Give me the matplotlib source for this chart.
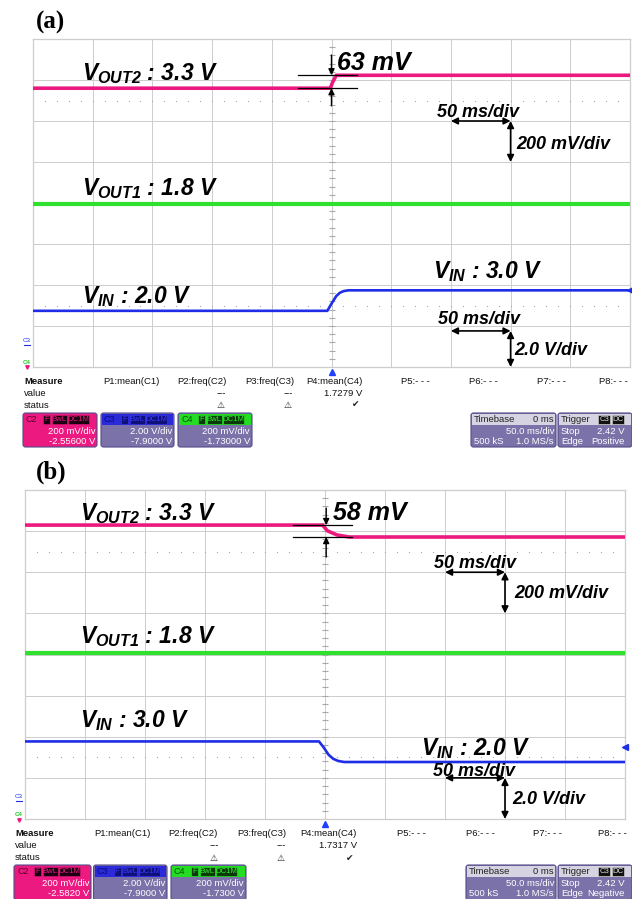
import numpy as np
import matplotlib
matplotlib.use("Agg")
import matplotlib.pyplot as plt
from matplotlib.patches import FancyBboxPatch, Rectangle

plt.rcParams["mathtext.fontset"] = "custom"
for key in ("mathtext.rm", "mathtext.it", "mathtext.bf", "mathtext.sf"):
    plt.rcParams[key] = "Liberation Sans:bold:italic"

W, H = 632, 899

PINK = "#ec1a80"
GREEN = "#2fe02f"
BLUE = "#1e2ee6"
GRID = "#cdcdcd"
TICK = "#a8a8a8"
PANEL = "#7a72a8"
PANEL_EDGE = "#544c8a"

# ---------------- data ----------------
time_per_div = 50.0            # ms/div
n_xdiv, n_ydiv = 10, 8
volts_per_div = {"vout2": 0.2, "vout1": 0.2, "vin": 2.0}

# (a) input steps up 2.0 V -> 3.0 V
a_vin_t = [-250, -3.5, 0, 4, 7, 10, 14, 250]
a_vin_v = [2.0, 2.0, 2.35, 2.72, 2.88, 2.96, 3.0, 3.0]
a_vout2_t = [-250, -1, 1, 4, 250]
a_vout2_v = [3.300, 3.300, 3.330, 3.363, 3.363]
a_vout1_t = [-250, 250]
a_vout1_v = [1.8, 1.8]
a_step_mv = 63

# (b) input steps down 3.0 V -> 2.0 V
b_vin_t = [-250, -5, -1, 3, 7, 11, 16, 250]
b_vin_v = [3.0, 3.0, 2.7, 2.35, 2.15, 2.05, 2.0, 2.0]
b_vout2_t = [-250, -2, 2, 10, 20, 250]
b_vout2_v = [3.358, 3.358, 3.330, 3.310, 3.300, 3.300]
b_vout1_t = [-250, 250]
b_vout1_v = [1.8, 1.8]
b_step_mv = 58

# screen position (divisions from bottom) of each channel's reference level
a_ref = {"vout2": (3.300, 6.80), "vout1": (1.8, 3.98), "vin": (2.0, 1.37)}
b_ref = {"vout2": (3.300, 6.857), "vout1": (1.8, 4.04), "vin": (2.0, 1.386)}

# measurement readouts
meas_names = ["Measure", "P1:mean(C1)", "P2:freq(C2)", "P3:freq(C3)", "P4:mean(C4)",
              "P5:- - -", "P6:- - -", "P7:- - -", "P8:- - -"]
a_p4_value = "1.7279 V"
b_p4_value = "1.7317 V"

a_ch_rows = [("C2", "200 mV/div", "-2.55600 V"),
             ("C3", "2.00 V/div", "-7.9000 V"),
             ("C4", "200 mV/div", "-1.73000 V")]
b_ch_rows = [("C2", "200 mV/div", "-2.5820 V"),
             ("C3", "2.00 V/div", "-7.9000 V"),
             ("C4", "200 mV/div", "-1.7300 V")]
timebase_rows = ("Timebase", "0 ms", "50.0 ms/div", "500 kS", "1.0 MS/s")
trigger_stop = ("Stop", "2.42 V")
a_trigger_edge = ("Edge", "Positive")
b_trigger_edge = ("Edge", "Negative")


def to_div(values, ch, ref):
    v0, pos = ref[ch]
    return [pos + (v - v0) / volts_per_div[ch] for v in values]


fig = plt.figure(figsize=(W / 100, H / 100), dpi=100)

# overlay axes in pixel units for the readout area
ov = fig.add_axes([0, 0, 1, 1], zorder=0)
ov.set_xlim(0, W)
ov.set_ylim(H, 0)
ov.axis("off")

BIG = dict(fontfamily="Liberation Sans", fontweight="bold", fontstyle="italic")


def make_scope_axes(box):
    x0, y0, x1, y1 = box
    ax = fig.add_axes([x0 / W, 1 - y1 / H, (x1 - x0) / W, (y1 - y0) / H], zorder=2)
    half = n_xdiv * time_per_div / 2
    ax.set_xlim(-half, half)
    ax.set_ylim(0, n_ydiv)
    ax.set_xticks([])
    ax.set_yticks([])
    for s in ax.spines.values():
        s.set_color(GRID)
        s.set_linewidth(0.9)
    for i in range(1, n_xdiv):
        ax.axvline(-half + i * time_per_div, color=GRID, lw=0.7, zorder=1)
    for j in range(1, n_ydiv):
        ax.axhline(j, color=GRID, lw=0.7, zorder=1)
    # centre axis minor ticks and dotted sub-division rows
    ys = np.arange(0, n_ydiv + 0.01, 0.2)
    ax.plot(np.zeros_like(ys), ys, ls="none", marker="_", ms=4, mew=0.8,
            color=TICK, zorder=1)
    xs = np.arange(-half + 10, half, 10)
    for row in (1.5, 6.5):
        ax.plot(xs, np.full_like(xs, row), ls="none", marker="s", ms=0.8,
                mew=0, color="#a8a8a8", zorder=1)
    return ax


def draw_panel(box, ref, traces, step_mv, step_lines, labels, arrows_top, arrows_bot,
               texts, right_marker):
    ax = make_scope_axes(box)
    (t2, v2), (t1, v1), (ti, vi) = traces
    ax.plot(t2, to_div(v2, "vout2", ref), color=PINK, lw=2.6, zorder=3,
            solid_capstyle="butt")
    ax.plot(t1, to_div(v1, "vout1", ref), color=GREEN, lw=3.0, zorder=3,
            solid_capstyle="butt")
    ax.plot(ti, to_div(vi, "vin", ref), color=BLUE, lw=1.9, zorder=3,
            solid_capstyle="butt")

    # step measurement cursors
    lo_v, hi_v, xl, xr, xa, top_y, bot_y = step_lines
    lo, hi = to_div([lo_v, hi_v], "vout2", ref)
    up, dn = max(lo, hi), min(lo, hi)
    ax.plot([xl, xr], [up, up], color="black", lw=0.9, zorder=4)
    ax.plot([xl, xr], [dn, dn], color="black", lw=0.9, zorder=4)
    ap = dict(arrowstyle="-|>", color="black", lw=1.0, mutation_scale=9,
              shrinkA=0, shrinkB=0)
    ax.annotate("", xy=(xa, up), xytext=(xa, top_y), arrowprops=ap, zorder=4)
    ax.annotate("", xy=(xa, dn), xytext=(xa, bot_y), arrowprops=ap, zorder=4)

    # scale indicators (one division each)
    dp = dict(arrowstyle="<|-|>", color="black", lw=1.2, mutation_scale=10,
              shrinkA=0, shrinkB=0)
    for (hx0, hx1, hy, vx, vy0, vy1) in (arrows_top, arrows_bot):
        ax.annotate("", xy=(hx1, hy), xytext=(hx0, hy), arrowprops=dp, zorder=4)
        ax.annotate("", xy=(vx, vy1), xytext=(vx, vy0), arrowprops=dp, zorder=4,
                    annotation_clip=False)

    for (x, y, s, size) in labels:
        ax.text(x, y, s, fontsize=size, va="baseline", ha="left", zorder=5, **BIG)
    for (x, y, s, size) in texts:
        ax.text(x, y, s, fontsize=size, va="baseline", ha="left", zorder=5, **BIG)

    # trigger position and channel marker
    ax.plot([0], [-0.13], marker="^", ms=5, color="#2040ff", clip_on=False, zorder=5)
    ax.plot([n_xdiv * time_per_div / 2], [right_marker], marker="<", ms=4,
            color=BLUE, clip_on=False, zorder=5)
    return ax


SMALL = dict(fontfamily="Liberation Sans", fontsize=6.8, color="#111111")


def readout(cols, ys, dash_x, value_right, value_text, check_x):
    y_m, y_v, y_s = ys
    for i, (x, name) in enumerate(zip(cols, meas_names)):
        ov.text(x, y_m, name, va="center", ha="left",
                fontweight="bold" if i == 0 else "normal", **SMALL)
    ov.text(cols[0], y_v, "value", va="center", ha="left", **SMALL)
    ov.text(cols[0], y_s, "status", va="center", ha="left", **SMALL)
    for x in dash_x:
        ov.text(x, y_v, "---", va="center", ha="center", **SMALL)
        ov.text(x, y_s, "\u26a0", va="center", ha="center", fontsize=6.5,
                fontfamily="DejaVu Sans", color="#222222")
    ov.text(value_right, y_v, value_text, va="center", ha="right", **SMALL)
    ov.text(check_x, y_s, "\u2714", va="center", ha="center", fontsize=6.5,
            fontfamily="DejaVu Sans", color="#222222")


def badge(x, y, s, fc, tc, w):
    ov.add_patch(Rectangle((x, y - 4.5), w, 9, fc=fc, ec=tc, lw=0.4, zorder=3))
    ov.text(x + w / 2, y + 0.3, s, va="center", ha="center", fontsize=5.6,
            fontfamily="Liberation Sans", color=tc, zorder=4)


def channel_box(x0, x1, y0, y1, rows, fill, head, name_col, badge_fc, badge_tc, body_tc):
    name, l1, l2 = rows
    ov.add_patch(FancyBboxPatch((x0, y0), x1 - x0, y1 - y0,
                                boxstyle="round,pad=0,rounding_size=2.5",
                                fc=fill, ec=PANEL_EDGE, lw=0.8, zorder=2))
    ov.add_patch(Rectangle((x0 + 1, y0 + 1), x1 - x0 - 2, 11, fc=head, ec="none", zorder=2))
    hy = y0 + 6.5
    ov.text(x0 + 3, hy, name, va="center", ha="left", fontsize=6.5,
            fontfamily="Liberation Sans", color=name_col, zorder=4)
    bx = x0 + 20
    for s, w in (("F", 7), ("BwL", 15), ("DC1M", 21)):
        badge(bx, hy, s, badge_fc, badge_tc, w)
        bx += w + 1.5
    ov.text(x1 - 2, y0 + 18, l1, va="center", ha="right", fontsize=6.8,
            fontfamily="Liberation Sans", color=body_tc, zorder=4)
    ov.text(x1 - 2, y0 + 29, l2, va="center", ha="right", fontsize=6.8,
            fontfamily="Liberation Sans", color=body_tc, zorder=4)


def info_boxes(tb, tr, y0, y1, ch_boxes, ch_rows, edge):
    colours = [
        (PINK, PINK, "#5a0028", "#1a0010", PINK, "#ffffff"),
        (PANEL, "#2a2ad8", "#0a0a80", "#10107a", "#3a3aff", "#ffffff"),
        (PANEL, "#22dd22", "#0a500a", "#0a3a0a", "#33ee33", "#ffffff"),
    ]
    for (x0, x1), rows, c in zip(ch_boxes, ch_rows, colours):
        channel_box(x0, x1, y0, y1, rows, *c)
    # timebase
    x0, x1 = tb
    ov.add_patch(FancyBboxPatch((x0, y0), x1 - x0, y1 - y0,
                                boxstyle="round,pad=0,rounding_size=2.5",
                                fc=PANEL, ec=PANEL_EDGE, lw=0.8, zorder=2))
    ov.add_patch(Rectangle((x0 + 1, y0 + 1), x1 - x0 - 2, 11, fc="#d6d4e2", ec="none", zorder=2))
    name, pos, per_div, ks, rate = timebase_rows
    ov.text(x0 + 3, y0 + 6.5, name, va="center", ha="left", fontsize=6.8,
            fontfamily="Liberation Sans", color="#222222", zorder=4)
    ov.text(x1 - 2, y0 + 6.5, pos, va="center", ha="right", fontsize=6.8,
            fontfamily="Liberation Sans", color="#222222", zorder=4)
    ov.text(x1 - 2, y0 + 18, per_div, va="center", ha="right", fontsize=6.8,
            fontfamily="Liberation Sans", color="white", zorder=4)
    ov.text(x0 + 3, y0 + 29, ks, va="center", ha="left", fontsize=6.8,
            fontfamily="Liberation Sans", color="white", zorder=4)
    ov.text(x1 - 2, y0 + 29, rate, va="center", ha="right", fontsize=6.8,
            fontfamily="Liberation Sans", color="white", zorder=4)
    # trigger
    x0, x1 = tr
    ov.add_patch(FancyBboxPatch((x0, y0), x1 - x0 + 6, y1 - y0,
                                boxstyle="round,pad=0,rounding_size=2.5",
                                fc=PANEL, ec=PANEL_EDGE, lw=0.8, zorder=2))
    ov.add_patch(Rectangle((x0 + 1, y0 + 1), x1 - x0 + 4, 11, fc="#d6d4e2", ec="none", zorder=2))
    ov.text(x0 + 3, y0 + 6.5, "Trigger", va="center", ha="left", fontsize=6.8,
            fontfamily="Liberation Sans", color="#222222", zorder=4)
    badge(x1 - 28, y0 + 6.5, "C3", "#111111", "#dddddd", 12)
    badge(x1 - 14.5, y0 + 6.5, "DC", "#111111", "#dddddd", 12)
    ov.text(x0 + 3, y0 + 18, trigger_stop[0], va="center", ha="left", fontsize=6.8,
            fontfamily="Liberation Sans", color="white", zorder=4)
    ov.text(x1 - 1, y0 + 18, trigger_stop[1], va="center", ha="right", fontsize=6.8,
            fontfamily="Liberation Sans", color="white", zorder=4)
    ov.text(x0 + 3, y0 + 29, edge[0], va="center", ha="left", fontsize=6.8,
            fontfamily="Liberation Sans", color="white", zorder=4)
    ov.text(x1 - 1, y0 + 29, edge[1], va="center", ha="right", fontsize=6.8,
            fontfamily="Liberation Sans", color="white", zorder=4)


def side_markers(x, y3, y4):
    ov.text(x, y3, "C3", fontsize=4.5, color=BLUE, ha="center", va="center",
            fontfamily="Liberation Sans")
    ov.plot([x - 3, x + 3], [y3 + 4, y3 + 4], color=BLUE, lw=0.8)
    ov.text(x, y4, "C4", fontsize=4.5, color="#22cc22", ha="center", va="center",
            fontfamily="Liberation Sans", fontweight="bold")
    ov.plot([x], [y4 + 5], marker="v", ms=2.5, color=PINK)


# ---------------- panel (a) ----------------
fig.text(36 / W, 1 - 22 / H, "(a)", fontsize=18, fontweight="bold",
         fontfamily="Liberation Serif", va="center", ha="left")
draw_panel(
    (33, 39, 630, 367), a_ref,
    [(a_vout2_t, a_vout2_v), (a_vout1_t, a_vout1_v), (a_vin_t, a_vin_v)],
    a_step_mv,
    (a_vout2_v[0], a_vout2_v[0] + a_step_mv / 1000, -28, 21, 0, 7.61, 6.37),
    [(-209, 7.0, r"$V_{OUT2}$ : 3.3 V", 16.5),
     (-209, 4.19, r"$V_{OUT1}$ : 1.8 V", 16.5),
     (-209, 1.56, r"$V_{IN}$ : 2.0 V", 16.5),
     (85, 2.17, r"$V_{IN}$ : 3.0 V", 16.5)],
    (100, 150, 6.0, 150, 6.0, 5.0),
    (100, 150, 0.88, 150, 0.88, 0.0),
    [(4.6, 7.24, f"{a_step_mv} mV", 18),
     (88, 6.1, "50 ms/div", 13),
     (155, 5.32, "200 mV/div", 13),
     (89, 1.05, "50 ms/div", 13),
     (153, 0.29, "2.0 V/div", 13)],
    1.87,
)
side_markers(27, 341, 362)
readout([24, 103, 177, 245, 306, 401, 469, 537, 599], (382, 393.5, 405),
        [221, 288], 362, a_p4_value, 356)
info_boxes((471, 556), (558, 626), 413, 447,
           [(23, 97), (101, 174), (178, 252)], a_ch_rows, a_trigger_edge)

# ---------------- panel (b) ----------------
fig.text(36 / W, 1 - 472 / H, "(b)", fontsize=18, fontweight="bold",
         fontfamily="Liberation Serif", va="center", ha="left")
draw_panel(
    (25, 490, 625, 819), b_ref,
    [(b_vout2_t, b_vout2_v), (b_vout1_t, b_vout1_v), (b_vin_t, b_vin_v)],
    b_step_mv,
    (b_vout2_v[-1], b_vout2_v[-1] + b_step_mv / 1000, -26.7, 22.5, 1, 7.56, 6.37),
    [(-204, 7.27, r"$V_{OUT2}$ : 3.3 V", 16.5),
     (-204, 4.28, r"$V_{OUT1}$ : 1.8 V", 16.5),
     (-204, 2.24, r"$V_{IN}$ : 3.0 V", 16.5),
     (80, 1.56, r"$V_{IN}$ : 2.0 V", 16.5)],
    (100, 150, 6.0, 150, 6.0, 5.0),
    (100, 150, 1.0, 150, 1.0, 0.0),
    [(6.7, 7.27, f"{b_step_mv} mV", 18),
     (91, 6.1, "50 ms/div", 13),
     (158, 5.37, "200 mV/div", 13),
     (90, 1.05, "50 ms/div", 13),
     (156, 0.36, "2.0 V/div", 13)],
    1.75,
)
side_markers(19, 797, 815)
readout([15, 94, 168.5, 237, 300, 397, 466, 533, 598], (833, 846, 858),
        [214, 281], 357, b_p4_value, 350)
info_boxes((466, 556), (558, 626), 865, 900,
           [(14, 91), (93.5, 167), (171, 246)], b_ch_rows, b_trigger_edge)

fig.savefig("out.png", dpi=100, facecolor="white")
